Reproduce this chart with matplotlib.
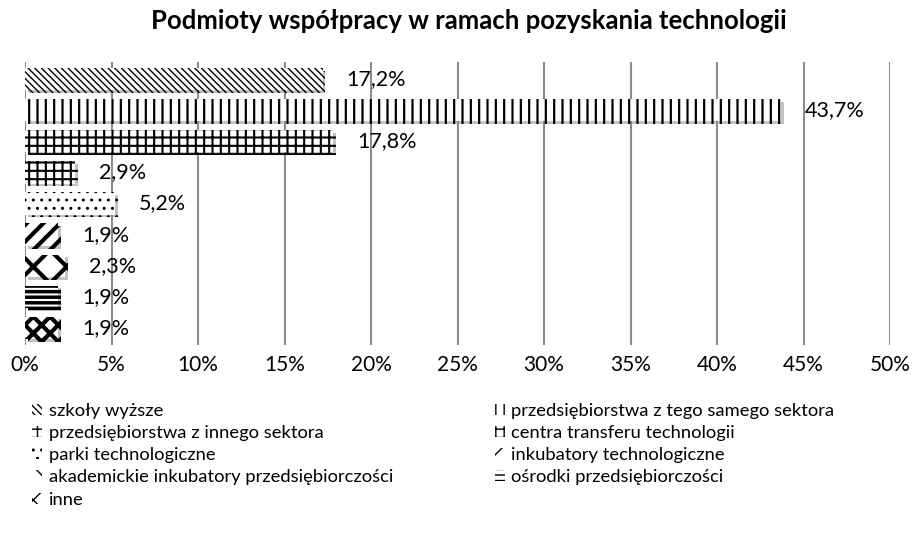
import matplotlib.pyplot as plt
import matplotlib.patheffects as pe
from matplotlib.patches import Patch

plt.rcParams['font.family'] = ['Lato', 'DejaVu Sans']

# Data
categories = [
    'szkoły wyższe',
    'przedsiębiorstwa z tego samego sektora',
    'przedsiębiorstwa z innego sektora',
    'centra transferu technologii',
    'parki technologiczne',
    'inkubatory technologiczne',
    'akademickie inkubatory przedsiębiorczości',
    'ośrodki przedsiębiorczości',
    'inne',
]
values = [17.2, 43.7, 17.8, 2.9, 5.2, 1.9, 2.3, 1.9, 1.9]
value_labels = ['17,2%', '43,7%', '17,8%', '2,9%', '5,2%', '1,9%', '2,3%', '1,9%', '1,9%']
xticks = [0, 5, 10, 15, 20, 25, 30, 35, 40, 45, 50]

# Styles
hatches = ['\\\\\\\\\\', '||', '++', '++', '..', '//', 'x', '---', 'xx']
hatch_widths = [1.0, 1.6, 1.5, 1.5, 1.0, 3.0, 3.0, 2.5, 3.0]


def hatch_patch(p, hw):
    if hasattr(p, 'set_hatch_linewidth'):
        p.set_hatch_linewidth(hw)


fig = plt.figure(figsize=(9.14, 5.34), dpi=100)
ax = fig.add_axes([25 / 914, 1 - 345 / 534, 865 / 914, 283 / 534])

ypos = list(range(len(values)))
bars = ax.barh(ypos, values, height=0.72, color='white', edgecolor='black', linewidth=0, zorder=3)
for bar, h, hw in zip(bars, hatches, hatch_widths):
    bar.set_hatch(h)
    hatch_patch(bar, hw)
    bar.set_path_effects([pe.SimplePatchShadow(offset=(2, -2), shadow_rgbFace='#888888', alpha=0.5), pe.Normal()])

for y, v, lab in zip(ypos, values, value_labels):
    ax.text(v + 1.4, y, lab, va='center', ha='left', fontsize=15.5, color='black', zorder=4)

ax.set_xlim(0, 50)
ax.set_ylim(len(values) - 0.45, -0.55)
ax.set_xticks(xticks)
ax.set_xticklabels([f'{t}%' for t in xticks], fontsize=15)
ax.set_yticks([])
ax.tick_params(axis='x', length=0, pad=7)
for s in ax.spines.values():
    s.set_visible(False)
ax.grid(axis='x', color='#8c8c8c', linewidth=1.5, zorder=0)

fig.suptitle('Podmioty współpracy w ramach pozyskania technologii', fontsize=18.5, fontweight='bold',
             x=0.513, y=0.983)

# Legend (row-wise order)
handles = []
for c, h, hw in zip(categories, hatches, hatch_widths):
    p = Patch(facecolor='white', edgecolor='black', linewidth=0, hatch=h, label=c)
    hatch_patch(p, hw)
    handles.append(p)
order = [0, 2, 4, 6, 8, 1, 3, 5, 7]
fig.legend([handles[i] for i in order], [categories[i] for i in order], ncol=2,
           loc='upper left', bbox_to_anchor=(0.031, 1 - 399 / 534), frameon=False,
           fontsize=13.2, handlelength=0.55, handleheight=0.55, handletextpad=0.35,
           columnspacing=5.55, labelspacing=0.34, borderaxespad=0, borderpad=0.2)

fig.savefig('out.png', dpi=100)
